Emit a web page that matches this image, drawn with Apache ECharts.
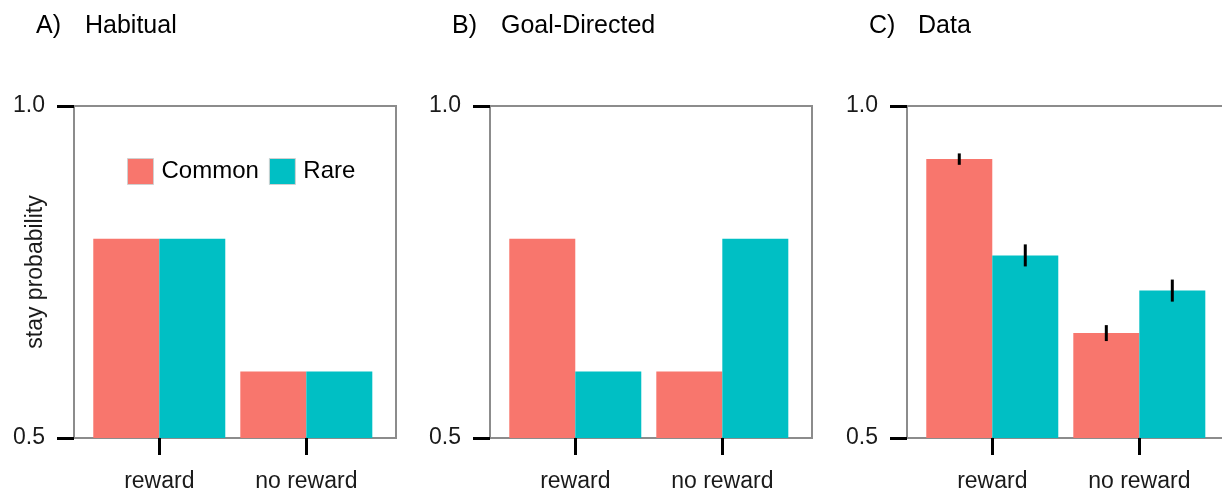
<!DOCTYPE html>
<html>
<head>
<meta charset="utf-8">
<script src="https://cdn.jsdelivr.net/npm/echarts@6/dist/echarts.min.js"></script>
<style>
  html, body { margin: 0; padding: 0; background: #fff; }
  #chart { width: 1222px; height: 490px; }
</style>
</head>
<body>
<div id="chart"></div>
<script>
const categories = ["reward", "no reward"]
const yTicks = [0.5, 1.0]

const habitualCommon = [0.8, 0.6]
const habitualRare = [0.8, 0.6]

const goalCommon = [0.8, 0.6]
const goalRare = [0.6, 0.8]

const dataCommon = [0.92, 0.658]
const dataRare = [0.775, 0.722]
const dataCommonErr = [0.0086, 0.012]
const dataRareErr = [0.0166, 0.0166]

const panelTitles = [
  ["A)", "Habitual"],
  ["B)", "Goal-Directed"],
  ["C)", "Data"],
]

const COMMON = "#F8766D"
const RARE = "#00BFC4"
const FONT = "Liberation Sans, Arial, sans-serif"

const chart = echarts.init(document.getElementById("chart"))

const gridLefts = [74, 490, 907]

const toPoints = (vals) => vals.map((v, i) => [i + 1, v])
const toErr = (vals, errs) => vals.map((v, i) => [i + 1, v - errs[i], v + errs[i]])

const errorBars = (offset) => (params, api) => {
  const x = api.value(0)
  const lo = api.coord([x, api.value(1)])
  const hi = api.coord([x, api.value(2)])
  return {
    type: "line",
    shape: { x1: lo[0] + offset, y1: lo[1], x2: hi[0] + offset, y2: hi[1] },
    style: { stroke: "#000", lineWidth: 3 },
  }
}

const titles = []
panelTitles.forEach((t, i) => {
  titles.push({
    text: t[0],
    left: gridLefts[i] - 38,
    top: 14,
    padding: 0,
    textStyle: { fontFamily: FONT, fontSize: 25, fontWeight: "normal", color: "#000" },
  })
  titles.push({
    text: t[1],
    left: gridLefts[i] + 11,
    top: 14,
    padding: 0,
    textStyle: { fontFamily: FONT, fontSize: 25, fontWeight: "normal", color: "#000" },
  })
})

const grids = gridLefts.map((left) => ({
  left: left,
  top: 106,
  width: 322,
  height: 332,
  show: true,
  borderColor: "#8c8c8c",
  borderWidth: 2,
  backgroundColor: "transparent",
  outerBoundsMode: "none",
  containLabel: false,
}))

const xAxes = gridLefts.map((_, i) => ({
  type: "value",
  gridIndex: i,
  min: 0.42,
  max: 2.61,
  axisLine: { show: false },
  splitLine: { show: false },
  axisTick: {
    show: true,
    customValues: [1, 2],
    length: 17,
    lineStyle: { color: "#000", width: 3 },
  },
  axisLabel: {
    customValues: [1, 2],
    formatter: (v) => categories[Math.round(v) - 1],
    margin: 32,
    fontFamily: FONT,
    fontSize: 23,
    color: "#1a1a1a",
  },
}))

const yAxes = gridLefts.map((_, i) => ({
  type: "value",
  gridIndex: i,
  min: yTicks[0],
  max: yTicks[1],
  interval: yTicks[1] - yTicks[0],
  name: i === 0 ? "stay probability" : "",
  nameLocation: "middle",
  nameGap: 27,
  nameMoveOverlap: false,
  nameTextStyle: { fontFamily: FONT, fontSize: 23, color: "#1a1a1a" },
  axisLine: { show: false },
  splitLine: { show: false },
  axisTick: {
    show: true,
    length: 17,
    lineStyle: { color: "#000", width: 3 },
  },
  axisLabel: {
    margin: 29,
    formatter: (v) => v.toFixed(1),
    fontFamily: FONT,
    fontSize: 23,
    color: "#1a1a1a",
  },
}))

const barSeries = (name, vals, color, idx) => ({
  name: name,
  type: "bar",
  xAxisIndex: idx,
  yAxisIndex: idx,
  data: toPoints(vals),
  barWidth: 66,
  barGap: "0%",
  itemStyle: { color: color },
  clip: true,
})

const panels = [
  [habitualCommon, habitualRare],
  [goalCommon, goalRare],
  [dataCommon, dataRare],
]

const series = []
panels.forEach((p, i) => {
  series.push(barSeries("Common", p[0], COMMON, i))
  series.push(barSeries("Rare", p[1], RARE, i))
})

series.push({
  name: "Common err",
  type: "custom",
  xAxisIndex: 2,
  yAxisIndex: 2,
  data: toErr(dataCommon, dataCommonErr),
  encode: { x: 0, y: [1, 2] },
  renderItem: errorBars(-33),
  z: 10,
})
series.push({
  name: "Rare err",
  type: "custom",
  xAxisIndex: 2,
  yAxisIndex: 2,
  data: toErr(dataRare, dataRareErr),
  encode: { x: 0, y: [1, 2] },
  renderItem: errorBars(33),
  z: 10,
})

const option = {
  backgroundColor: "#fff",
  animation: false,
  title: titles,
  legend: {
    data: ["Common", "Rare"],
    left: 127,
    top: 158,
    padding: 0,
    icon: "rect",
    itemWidth: 26,
    itemHeight: 26,
    itemGap: 10,
    itemStyle: { borderColor: "#d0d0d0", borderWidth: 1 },
    textStyle: { fontFamily: FONT, fontSize: 24, color: "#000", padding: [0, 0, 0, 3] },
  },
  grid: grids,
  xAxis: xAxes,
  yAxis: yAxes,
  series: series,
}

chart.setOption(option)

window.addEventListener("resize", () => chart.resize())
</script>
</body>
</html>
